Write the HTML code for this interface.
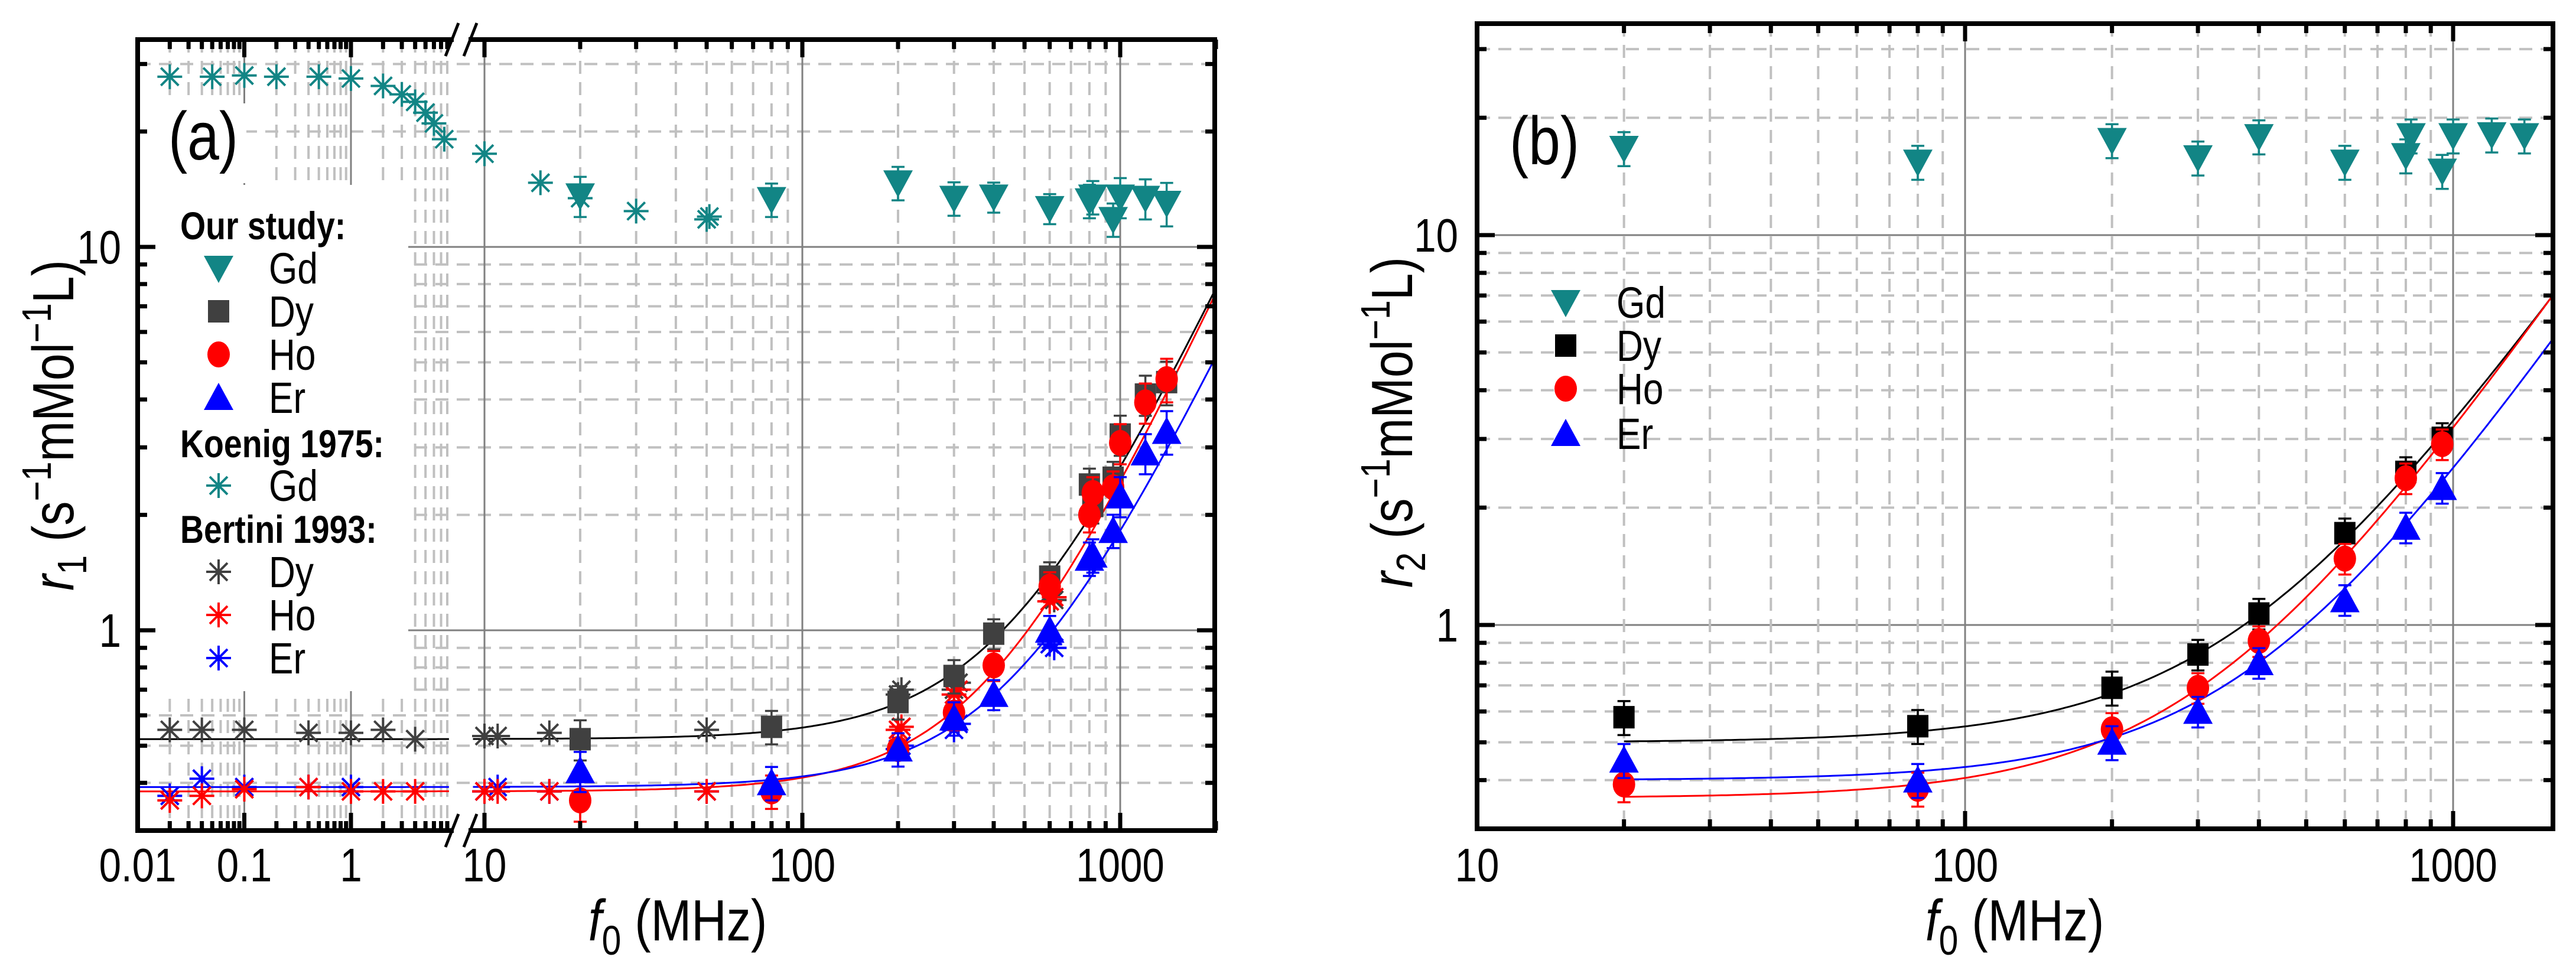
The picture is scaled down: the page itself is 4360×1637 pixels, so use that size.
<!DOCTYPE html>
<html><head><meta charset="utf-8"><style>
html,body{margin:0;padding:0;background:#fff}
svg{display:block;font-family:"Liberation Sans",Arial,sans-serif}
</style></head><body>
<svg id="chart" xmlns="http://www.w3.org/2000/svg" width="4360" height="1637" viewBox="0 0 4360 1637">
<rect x="0" y="0" width="4360" height="1637" fill="#fff"/>
<g id="gA"></g>
<g id="gB"></g>
</svg>
<script>
// ===== Panel (a) data : r1 =====
const aStudyX = [20, 80, 200, 300, 400, 600, 800, 820, 950, 1000, 1200, 1400];
const aGd = [13.6, 13.3, 14.7, 13.4, 13.5, 12.6, 13.2, 13.5, 11.8, 13.5, 13.4, 13.0];
const aDy = [0.52, 0.56, 0.65, 0.76, 0.98, 1.38, 2.40, 2.11, 2.50, 3.24, 4.12, 4.44];
const aHo = [0.36, 0.38, 0.49, 0.61, 0.81, 1.30, 2.00, 2.28, 2.36, 3.08, 3.93, 4.52];
const aEr = [0.43, 0.40, 0.49, 0.59, 0.68, 1.00, 1.54, 1.57, 1.82, 2.24, 2.90, 3.30];
const aErrPct = [0.12, 0.10, 0.10, 0.10, 0.09, 0.09, 0.10, 0.10, 0.10, 0.12, 0.12, 0.13];
const koenigX = [0.02, 0.05, 0.1, 0.2, 0.5, 1, 2, 3, 4, 5, 6, 7.5, 10, 15, 20, 30, 50, 51];
const koenigGd = [27.8, 27.8, 28.0, 27.8, 27.8, 27.5, 26.3, 25.0, 23.9, 22.4, 21.0, 19.1, 17.5, 14.7, 13.4, 12.4, 11.8, 12.0];
const bertDyX = [0.02, 0.04, 0.1, 0.4, 1, 2, 4, 10, 11, 16, 50, 200, 205, 300, 310, 600, 620];
const bertDy = [0.55, 0.55, 0.55, 0.54, 0.54, 0.55, 0.52, 0.53, 0.53, 0.54, 0.55, 0.68, 0.70, 0.70, 0.73, 1.25, 1.20];
const bertHoX = [0.02, 0.04, 0.1, 0.4, 1, 2, 4, 10, 11, 16, 50, 200, 205, 300, 310, 600, 620];
const bertHo = [0.36, 0.37, 0.385, 0.39, 0.38, 0.38, 0.38, 0.38, 0.38, 0.38, 0.38, 0.55, 0.56, 0.68, 0.70, 1.19, 1.22];
const bertErX = [0.02, 0.04, 0.1, 0.4, 1, 10, 11, 16, 50, 200, 205, 300, 310, 600, 620];
const bertEr = [0.37, 0.41, 0.39, 0.39, 0.39, 0.38, 0.39, 0.38, 0.38, 0.49, 0.50, 0.55, 0.57, 0.92, 0.90];
// fit parameters r = a + c*(f/1000)^n  [Dy, Ho, Er]
const aFitA = [0.52, 0.38, 0.39];
const aFitC = [2.15, 2.07, 1.43];
const aFitN = [1.76, 1.80, 1.745];

// ===== Panel (b) data : r2 =====
const bGdX = [20, 80, 200, 300, 400, 600, 800, 820, 950, 1000, 1200, 1400];
const bGd = [16.7, 15.4, 17.5, 15.8, 17.9, 15.4, 16.0, 18.0, 14.6, 18.0, 18.1, 18.0];
const bGdErrPct = [0.1, 0.1, 0.1, 0.1, 0.1, 0.1, 0.1, 0.1, 0.1, 0.1, 0.1, 0.1];
const bX = [20, 80, 200, 300, 400, 600, 800, 950];
const bDy = [0.58, 0.55, 0.69, 0.84, 1.07, 1.72, 2.47, 3.02];
const bHo = [0.39, 0.38, 0.54, 0.69, 0.91, 1.48, 2.38, 2.91];
const bEr = [0.45, 0.40, 0.50, 0.60, 0.80, 1.16, 1.78, 2.25];
const bErrPct = [0.10, 0.10, 0.10, 0.09, 0.09, 0.09, 0.09, 0.09];
const bFitA = [0.50, 0.36, 0.40];
const bFitC = [2.84, 2.85, 2.13];
const bFitN = [1.76, 1.80, 1.82];

const yTicks = [1, 10];
const yMinor = [0.3,0.4,0.5,0.6,0.7,0.8,0.9,2,3,4,5,6,7,8,9,20,30];

const NS = "http://www.w3.org/2000/svg";
const L10 = Math.log10;
const SX = 0.84;
function mk(parent, tag, attrs, text) {
  const e = document.createElementNS(NS, tag);
  for (const k in attrs) e.setAttribute(k, attrs[k]);
  if (text !== undefined) e.textContent = text;
  parent.appendChild(e);
  return e;
}
function txt(parent, x, y, attrs, text, rot) {
  attrs.x = 0; attrs.y = 0;
  attrs.transform = `translate(${x},${y})` + (rot ? " rotate(-90)" : "") + ` scale(${SX},1)`;
  return mk(parent, "text", attrs, text);
}
const TEAL = "#128585", DGRAY = "#404040", RED = "#ff0000", BLUE = "#0000ff", GRID = "#c0c0c0", MAJ = "#808080";

const A = {L: 233, R: 2056, T: 67, B: 1406, brk1: 762, brk2: 799};
function xa(v) { return v < 8.6 ? A.L + (L10(v) + 2) * 180.5 : 820 + (L10(v) - 1) * 538; }
function ya(v) { return 1067 - L10(v) * 649; }
const Bp = {L: 2500, R: 4321, T: 40, B: 1403};
function xb(v) { return 2500 + (L10(v) - 1) * 826; }
function yb(v) { return 1058 - L10(v) * 660; }

function marker(g, type, cx, cy, color, name) {
  let e;
  if (type === "tdown") e = mk(g, "polygon", {points: `${cx-25},${cy-21} ${cx+25},${cy-21} ${cx},${cy+25}`, fill: color});
  else if (type === "tup") e = mk(g, "polygon", {points: `${cx-25},${cy+21} ${cx+25},${cy+21} ${cx},${cy-25}`, fill: color});
  else if (type === "sq") e = mk(g, "rect", {x: cx-18, y: cy-19, width: 36, height: 38, fill: color});
  else if (type === "circ") e = mk(g, "ellipse", {cx: cx, cy: cy, rx: 19, ry: 22, fill: color});
  else {
    const r = 21, d = 15;
    e = mk(g, "path", {d: `M${cx-r},${cy}H${cx+r}M${cx},${cy-r}V${cy+r}M${cx-d},${cy-d}L${cx+d},${cy+d}M${cx-d},${cy+d}L${cx+d},${cy-d}`, stroke: color, "stroke-width": 4, fill: "none"});
  }
  
  
}
function errbar(g, x, y1, y2, color) {
  const e = mk(g, "path", {d: `M${x},${y1}V${y2}M${x-11},${y1}H${x+11}M${x-11},${y2}H${x+11}`, stroke: color, "stroke-width": 3.5, fill: "none"});
  
  
}
function series(g, xs, ys, errs, type, color, xf, yf, name) {
  const sg = mk(g, "g", {});
  
  
  for (let i = 0; i < xs.length; i++) {
    if (errs) errbar(sg, xf(xs[i]), yf(ys[i] * (1 + errs[i])), yf(ys[i] * (1 - errs[i])), color);
    marker(sg, type, xf(xs[i]), yf(ys[i]), color, name + "-point");
  }
}
function fitPath(g, a, c, n, f0, f1, xf, yf, color, name) {
  let d = "";
  for (let i = 0; i <= 200; i++) {
    const f = Math.pow(10, L10(f0) + (L10(f1) - L10(f0)) * i / 200);
    const v = a + c * Math.pow(f / 1000, n);
    d += (i ? "L" : "M") + xf(f).toFixed(1) + "," + yf(v).toFixed(1);
  }
  const e = mk(g, "path", {d: d, stroke: color, "stroke-width": 3, fill: "none"});
  
  
}

// ===== Panel A =====
const gA = document.getElementById("gA");
(function () {
  const grid = mk(gA, "g", {});
  
  
  yMinor.forEach(v => mk(grid, "line", {x1: A.L, x2: A.R, y1: ya(v), y2: ya(v), stroke: GRID, "stroke-width": 4, "stroke-dasharray": "22 14"}));
  yTicks.forEach(v => mk(grid, "line", {x1: A.L, x2: A.R, y1: ya(v), y2: ya(v), stroke: MAJ, "stroke-width": 3}));
  const minR = [20,30,40,50,60,70,80,90,200,300,400,500,600,700,800,900,2000];
  minR.forEach(v => mk(grid, "line", {x1: xa(v), x2: xa(v), y1: A.T, y2: A.B, stroke: GRID, "stroke-width": 4, "stroke-dasharray": "22 14"}));
  [10,100,1000].forEach(v => mk(grid, "line", {x1: xa(v), x2: xa(v), y1: A.T, y2: A.B, stroke: MAJ, "stroke-width": 3}));
  const minL = [0.02,0.03,0.04,0.05,0.06,0.07,0.08,0.09,0.2,0.3,0.4,0.5,0.6,0.7,0.8,0.9,2,3,4,5,6,7,8];
  minL.forEach(v => mk(grid, "line", {x1: xa(v), x2: xa(v), y1: A.T, y2: A.B, stroke: GRID, "stroke-width": 4, "stroke-dasharray": "22 14"}));
  [0.1,1].forEach(v => mk(grid, "line", {x1: xa(v), x2: xa(v), y1: A.T, y2: A.B, stroke: MAJ, "stroke-width": 3}));
  mk(gA, "rect", {x: A.L + 4, y: 313, width: 691 - A.L - 4, height: 857, fill: "#fff"});
  mk(gA, "rect", {x: A.L + 4, y: 175, width: 180, height: 135, fill: "#fff"});
})();
["fit-dy", "fit-ho", "fit-er"].forEach((nm, i) => {
  const col = ["#000", RED, BLUE][i];
  fitPath(gA, aFitA[i], aFitC[i], aFitN[i], 0.01, 8.3, xa, ya, col, "a-" + nm + "-left");
  fitPath(gA, aFitA[i], aFitC[i], aFitN[i], 9.2, 2000, xa, ya, col, "a-" + nm);
});
series(gA, koenigX, koenigGd, null, "star", TEAL, xa, ya, "koenig-gd-series");
series(gA, bertDyX, bertDy, null, "star", DGRAY, xa, ya, "bertini-dy-series");
series(gA, bertErX, bertEr, null, "star", BLUE, xa, ya, "bertini-er-series");
series(gA, bertHoX, bertHo, null, "star", RED, xa, ya, "bertini-ho-series");
series(gA, aStudyX, aGd, aErrPct, "tdown", TEAL, xa, ya, "study-gd-series");
series(gA, aStudyX, aDy, aErrPct, "sq", DGRAY, xa, ya, "study-dy-series");
series(gA, aStudyX, aHo, aErrPct, "circ", RED, xa, ya, "study-ho-series");
series(gA, aStudyX, aEr, aErrPct, "tup", BLUE, xa, ya, "study-er-series");

function frame(g, L, T, R, B, name) {
  const e = mk(g, "rect", {x: L, y: T, width: R - L, height: B - T, fill: "none", stroke: "#000", "stroke-width": 8});
  
  
}
function ticks(g, xs, L, T, R, B, len, xf, vertical) {
  xs.forEach(v => {
    if (vertical) {
      const y = xf(v);
      mk(g, "line", {x1: L, x2: L + len, y1: y, y2: y, stroke: "#000", "stroke-width": 7});
      mk(g, "line", {x1: R - len, x2: R, y1: y, y2: y, stroke: "#000", "stroke-width": 7});
    } else {
      const x = xf(v);
      mk(g, "line", {x1: x, x2: x, y1: B - len, y2: B, stroke: "#000", "stroke-width": 7});
      mk(g, "line", {x1: x, x2: x, y1: T, y2: T + len, stroke: "#000", "stroke-width": 7});
    }
  });
}
frame(gA, A.L, A.T, A.R, A.B, "plot-frame-a");
ticks(gA, yTicks, A.L, A.T, A.R, A.B, 30, ya, true);
ticks(gA, yMinor, A.L, A.T, A.R, A.B, 16, ya, true);
ticks(gA, [0.1, 1, 10, 100, 1000], A.L, A.T, A.R, A.B, 30, xa, false);
ticks(gA, [0.02,0.03,0.04,0.05,0.06,0.07,0.08,0.09,0.2,0.3,0.4,0.5,0.6,0.7,0.8,0.9,2,3,4,5,6,7,8,20,30,40,50,60,70,80,90,200,300,400,500,600,700,800,900,2000], A.L, A.T, A.R, A.B, 16, xa, false);
[A.T, A.B].forEach(y => {
  mk(gA, "rect", {x: A.brk1 + 6, y: y - 14, width: A.brk2 - A.brk1 - 12, height: 28, fill: "#fff"});
  const b = mk(gA, "path", {d: `M${A.brk1-8},${y+28}L${A.brk1+14},${y-28}M${A.brk2-14},${y+28}L${A.brk2+8},${y-28}`, stroke: "#000", "stroke-width": 5, fill: "none"});
  
  
});
const aXLab = [[0.01,"0.01"],[0.1,"0.1"],[1,"1"],[10,"10"],[100,"100"],[1000,"1000"]];
aXLab.forEach(p => {
  const t = txt(gA, xa(p[0]), 1492, {"font-size": 80, "text-anchor": "middle"}, p[1]);
  
  
});
[[1,"1"],[10,"10"]].forEach(p => {
  const t = txt(gA, 205, ya(p[0]) + 28, {"font-size": 80, "text-anchor": "end"}, p[1]);
  
  
});
(function () {
  const t = txt(gA, 1147, 1592, {"font-size": 98, "text-anchor": "middle"});
  
  
  t.innerHTML = '<tspan font-style="italic">f</tspan><tspan font-size="70" dy="24">0</tspan><tspan dy="-24"> (MHz)</tspan>';
  const y = txt(gA, 124, 720, {"font-size": 98, "text-anchor": "middle"}, undefined, true);
  
  
  y.innerHTML = '<tspan font-style="italic">r</tspan><tspan font-size="70" dy="22">1</tspan><tspan dy="-22"> (s</tspan><tspan font-size="70" dy="-38">−1</tspan><tspan dy="38">mMol</tspan><tspan font-size="70" dy="-38">−1</tspan><tspan dy="38">L)</tspan>';
  const lab = txt(gA, 285, 270, {"font-size": 115}, "(a)");
  
  
})();
(function () {
  const lg = mk(gA, "g", {});
  
  
  const rows = [
    ["h","Our study:",381],["tdown","Gd",454,TEAL],["sq","Dy",527,DGRAY],["circ","Ho",600,RED],["tup","Er",673,BLUE],
    ["h","Koenig 1975:",750],["star","Gd",822,TEAL],
    ["h","Bertini 1993:",895],["star","Dy",968,DGRAY],["star","Ho",1041,RED],["star","Er",1114,BLUE]];
  rows.forEach(r => {
    if (r[0] === "h") {
      const t = txt(lg, 305, r[2] + 24, {"font-size": 66, "font-weight": "bold"}, r[1]);
      
      
    } else {
      marker(lg, r[0], 370, r[2], r[3], "legend-symbol");
      const t = txt(lg, 455, r[2] + 26, {"font-size": 74}, r[1]);
      
      
    }
  });
})();

// ===== Panel B =====
const gB = document.getElementById("gB");
(function () {
  const grid = mk(gB, "g", {});
  
  
  yMinor.forEach(v => mk(grid, "line", {x1: Bp.L, x2: Bp.R, y1: yb(v), y2: yb(v), stroke: GRID, "stroke-width": 4, "stroke-dasharray": "22 14"}));
  yTicks.forEach(v => mk(grid, "line", {x1: Bp.L, x2: Bp.R, y1: yb(v), y2: yb(v), stroke: MAJ, "stroke-width": 3}));
  [20,30,40,50,60,70,80,90,200,300,400,500,600,700,800,900].forEach(v => mk(grid, "line", {x1: xb(v), x2: xb(v), y1: Bp.T, y2: Bp.B, stroke: GRID, "stroke-width": 4, "stroke-dasharray": "22 14"}));
  [100,1000].forEach(v => mk(grid, "line", {x1: xb(v), x2: xb(v), y1: Bp.T, y2: Bp.B, stroke: MAJ, "stroke-width": 3}));
})();
["fit-dy", "fit-ho", "fit-er"].forEach((nm, i) => {
  fitPath(gB, bFitA[i], bFitC[i], bFitN[i], 20, 1600, xb, yb, ["#000", RED, BLUE][i], "b-" + nm);
});
series(gB, bGdX, bGd, bGdErrPct, "tdown", TEAL, xb, yb, "b-gd-series");
series(gB, bX, bDy, bErrPct, "sq", "#000", xb, yb, "b-dy-series");
series(gB, bX, bHo, bErrPct, "circ", RED, xb, yb, "b-ho-series");
series(gB, bX, bEr, bErrPct, "tup", BLUE, xb, yb, "b-er-series");
frame(gB, Bp.L, Bp.T, Bp.R, Bp.B, "plot-frame-b");
ticks(gB, yTicks, Bp.L, Bp.T, Bp.R, Bp.B, 30, yb, true);
ticks(gB, yMinor, Bp.L, Bp.T, Bp.R, Bp.B, 16, yb, true);
ticks(gB, [100, 1000], Bp.L, Bp.T, Bp.R, Bp.B, 30, xb, false);
ticks(gB, [20,30,40,50,60,70,80,90,200,300,400,500,600,700,800,900], Bp.L, Bp.T, Bp.R, Bp.B, 16, xb, false);
[[10,"10"],[100,"100"],[1000,"1000"]].forEach(p => {
  const t = txt(gB, xb(p[0]), 1492, {"font-size": 80, "text-anchor": "middle"}, p[1]);
  
  
});
[[1,"1"],[10,"10"]].forEach(p => {
  const t = txt(gB, 2468, yb(p[0]) + 28, {"font-size": 80, "text-anchor": "end"}, p[1]);
  
  
});
(function () {
  const t = txt(gB, 3410, 1592, {"font-size": 98, "text-anchor": "middle"});
  
  
  t.innerHTML = '<tspan font-style="italic">f</tspan><tspan font-size="70" dy="24">0</tspan><tspan dy="-24"> (MHz)</tspan>';
  const y = txt(gB, 2390, 715, {"font-size": 98, "text-anchor": "middle"}, undefined, true);
  
  
  y.innerHTML = '<tspan font-style="italic">r</tspan><tspan font-size="70" dy="22">2</tspan><tspan dy="-22"> (s</tspan><tspan font-size="70" dy="-38">−1</tspan><tspan dy="38">mMol</tspan><tspan font-size="70" dy="-38">−1</tspan><tspan dy="38">L)</tspan>';
  const lab = txt(gB, 2555, 278, {"font-size": 115}, "(b)");
  
  
  const lg = mk(gB, "g", {});
  
  
  [["tdown","Gd",512,TEAL],["sq","Dy",585,"#000"],["circ","Ho",658,RED],["tup","Er",734,BLUE]].forEach(r => {
    marker(lg, r[0], 2650, r[2], r[3], "legend-symbol");
    const tt = txt(lg, 2736, r[2] + 26, {"font-size": 74}, r[1]);
    
    
  });
})();
</script>
</body></html>
